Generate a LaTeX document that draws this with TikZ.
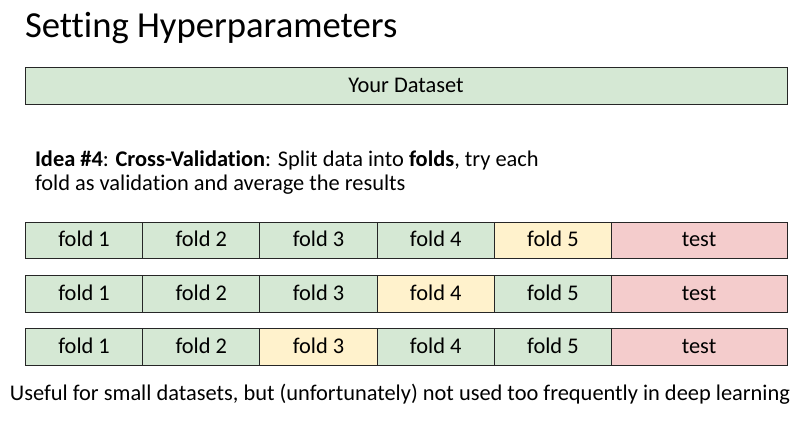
\documentclass[tikz,border=0pt]{standalone}
\usepackage{fontspec}
\setmainfont{Carlito}[Ligatures=NoCommon]
\usetikzlibrary{positioning}
\definecolor{foldgreen}{HTML}{D5E8D4}
\definecolor{foldyellow}{HTML}{FFF2CC}
\definecolor{testred}{HTML}{F4CCCC}

\begin{document}
\begin{tikzpicture}[x=0.75pt, y=-0.75pt]
\useasboundingbox (0,0) rectangle (812,424);
\tikzstyle{every node} = [inner sep=0pt, outer sep=0pt]
\tikzstyle{cell} = [draw=black!85, line width=0.7pt, minimum height=27.5pt, minimum width=87.9pt,
	text height=1.15em, text depth=0.2em, font=\fontsize{16.8}{20}\selectfont]
\node[anchor=base west, font=\fontsize{27.5}{32}\selectfont] (title) at (25,38) {Setting Hyperparameters};
\node[cell, fill=foldgreen, minimum width=571.5pt] (dataset) at (406,86) {Your Dataset};
\node[anchor=base west, align=left, font=\fontsize{16.8}{18}\selectfont] (idea) at (35,190)
	{\textbf{Idea \#4}: \textbf{Cross-Validation}: Split data into \textbf{folds}, try each\\
	fold as validation and average the results};
% one row per choice of validation fold
\foreach \r/\v/\y in {1/5/240.5, 2/4/294, 3/3/347} {
	\foreach \c in {1,...,5} {
		\def\fc{foldgreen}
		\ifnum\c=\v \def\fc{foldyellow}\fi
		\node[cell, fill=\fc] (r\r c\c) at ({84.1+(\c-1)*117.2},\y) {fold \c};
	}
	\node[cell, fill=testred, minimum width=132pt] (r\r test) at (699,\y) {test};
}
\node[anchor=base, font=\fontsize{16.8}{18}\selectfont] (note) at (400,400)
	{Useful for small datasets, but (unfortunately) not used too frequently in deep learning};
\end{tikzpicture}
\end{document}
